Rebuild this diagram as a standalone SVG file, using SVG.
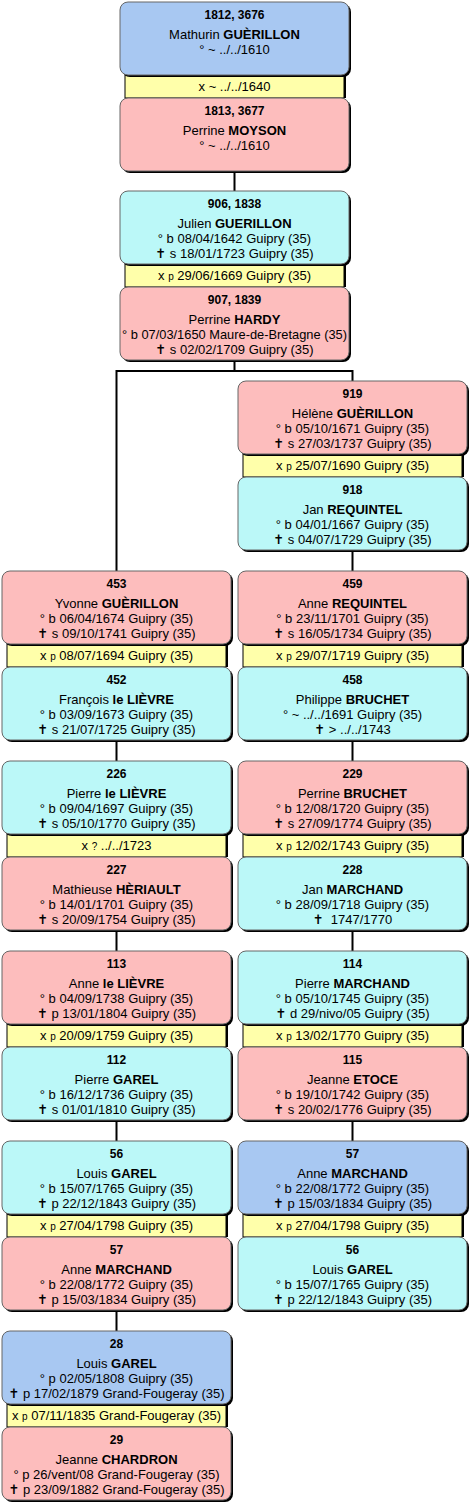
<svg xmlns="http://www.w3.org/2000/svg" width="474" height="1506" viewBox="0 0 474 1506">
<style>
text{font-family:"Liberation Sans",Arial,"DejaVu Sans",sans-serif;font-size:13px;fill:#000;text-anchor:middle}
.n{font-weight:bold;font-size:12px}
b,.b{font-weight:bold}
.s{font-size:10px}
.sh{fill:#000}
.bx{stroke:#666;stroke-width:1}
.blue{fill:#a8c8f2}
.pink{fill:#fdbdbd}
.cyan{fill:#bbf8f8}
.st{fill:#ffffaa;stroke:#000;stroke-width:1}
.cn{stroke:#000;stroke-width:2;fill:none;stroke-linecap:square}
</style>
<g id="connectors">
<path class="cn" d="M234.5 171V191M234.5 360V371M116.5 371H352.5M352.5 371V381M116.5 371V571M352.5 550V571M352.5 740V761M352.5 930V951M352.5 1120V1141M116.5 740V761M116.5 930V951M116.5 1120V1141M116.5 1310V1331"/>
</g>

<!-- Row 0 -->
<g id="m1812" transform="translate(120,2)"><rect class="sh" x="7" y="73" width="219" height="23"/><rect class="st" x="5" y="73" width="219" height="23"/><text x="114.5" y="89">x ~ ../../1640</text></g>
<g id="p1812" transform="translate(120,2)"><rect class="sh" x="2" y="2" width="229" height="73" rx="8"/><rect class="bx blue" width="229" height="73" rx="8"/><text class="n" x="114.5" y="17">1812, 3676</text><text x="114.5" y="37">Mathurin <tspan class="b">GUÈRILLON</tspan></text><text x="114.5" y="52">° ~ ../../1610</text></g>
<g id="p1813" transform="translate(120,98)"><rect class="sh" x="2" y="2" width="229" height="73" rx="8"/><rect class="bx pink" width="229" height="73" rx="8"/><text class="n" x="114.5" y="17">1813, 3677</text><text x="114.5" y="37">Perrine <tspan class="b">MOYSON</tspan></text><text x="114.5" y="52">° ~ ../../1610</text></g>

<!-- Row 1 -->
<g id="m906" transform="translate(120,191)"><rect class="sh" x="7" y="73" width="219" height="23"/><rect class="st" x="5" y="73" width="219" height="23"/><text x="114.5" y="89">x <tspan class="s">p</tspan> 29/06/1669 Guipry (35)</text></g>
<g id="p906" transform="translate(120,191)"><rect class="sh" x="2" y="2" width="229" height="73" rx="8"/><rect class="bx cyan" width="229" height="73" rx="8"/><text class="n" x="114.5" y="17">906, 1838</text><text x="114.5" y="37">Julien <tspan class="b">GUERILLON</tspan></text><text x="114.5" y="52">° b 08/04/1642 Guipry (35)</text><text x="114.5" y="67">✝ s 18/01/1723 Guipry (35)</text></g>
<g id="p907" transform="translate(120,287)"><rect class="sh" x="2" y="2" width="229" height="73" rx="8"/><rect class="bx pink" width="229" height="73" rx="8"/><text class="n" x="114.5" y="17">907, 1839</text><text x="114.5" y="37">Perrine <tspan class="b">HARDY</tspan></text><text x="114.5" y="52" textLength="225" lengthAdjust="spacingAndGlyphs">° b 07/03/1650 Maure-de-Bretagne (35)</text><text x="114.5" y="67">✝ s 02/02/1709 Guipry (35)</text></g>

<!-- Row 2 right -->
<g id="m919" transform="translate(238,381)"><rect class="sh" x="7" y="73" width="219" height="23"/><rect class="st" x="5" y="73" width="219" height="23"/><text x="114.5" y="89">x <tspan class="s">p</tspan> 25/07/1690 Guipry (35)</text></g>
<g id="p919" transform="translate(238,381)"><rect class="sh" x="2" y="2" width="229" height="73" rx="8"/><rect class="bx pink" width="229" height="73" rx="8"/><text class="n" x="114.5" y="17">919</text><text x="114.5" y="37">Hélène <tspan class="b">GUÈRILLON</tspan></text><text x="114.5" y="52">° b 05/10/1671 Guipry (35)</text><text x="114.5" y="67">✝ s 27/03/1737 Guipry (35)</text></g>
<g id="p918" transform="translate(238,477)"><rect class="sh" x="2" y="2" width="229" height="73" rx="8"/><rect class="bx cyan" width="229" height="73" rx="8"/><text class="n" x="114.5" y="17">918</text><text x="114.5" y="37">Jan <tspan class="b">REQUINTEL</tspan></text><text x="114.5" y="52">° b 04/01/1667 Guipry (35)</text><text x="114.5" y="67">✝ s 04/07/1729 Guipry (35)</text></g>

<!-- Row 3 left -->
<g id="m453" transform="translate(2,571)"><rect class="sh" x="7" y="73" width="219" height="23"/><rect class="st" x="5" y="73" width="219" height="23"/><text x="114.5" y="89">x <tspan class="s">p</tspan> 08/07/1694 Guipry (35)</text></g>
<g id="p453" transform="translate(2,571)"><rect class="sh" x="2" y="2" width="229" height="73" rx="8"/><rect class="bx pink" width="229" height="73" rx="8"/><text class="n" x="114.5" y="17">453</text><text x="114.5" y="37">Yvonne <tspan class="b">GUÈRILLON</tspan></text><text x="114.5" y="52">° b 06/04/1674 Guipry (35)</text><text x="114.5" y="67">✝ s 09/10/1741 Guipry (35)</text></g>
<g id="p452" transform="translate(2,667)"><rect class="sh" x="2" y="2" width="229" height="73" rx="8"/><rect class="bx cyan" width="229" height="73" rx="8"/><text class="n" x="114.5" y="17">452</text><text x="114.5" y="37">François <tspan class="b">le LIÈVRE</tspan></text><text x="114.5" y="52">° b 03/09/1673 Guipry (35)</text><text x="114.5" y="67">✝ s 21/07/1725 Guipry (35)</text></g>

<!-- Row 3 right -->
<g id="m459" transform="translate(238,571)"><rect class="sh" x="7" y="73" width="219" height="23"/><rect class="st" x="5" y="73" width="219" height="23"/><text x="114.5" y="89">x <tspan class="s">p</tspan> 29/07/1719 Guipry (35)</text></g>
<g id="p459" transform="translate(238,571)"><rect class="sh" x="2" y="2" width="229" height="73" rx="8"/><rect class="bx pink" width="229" height="73" rx="8"/><text class="n" x="114.5" y="17">459</text><text x="114.5" y="37">Anne <tspan class="b">REQUINTEL</tspan></text><text x="114.5" y="52">° b 23/11/1701 Guipry (35)</text><text x="114.5" y="67">✝ s 16/05/1734 Guipry (35)</text></g>
<g id="p458" transform="translate(238,667)"><rect class="sh" x="2" y="2" width="229" height="73" rx="8"/><rect class="bx cyan" width="229" height="73" rx="8"/><text class="n" x="114.5" y="17">458</text><text x="114.5" y="37">Philippe <tspan class="b">BRUCHET</tspan></text><text x="114.5" y="52">° ~ ../../1691 Guipry (35)</text><text x="114.5" y="67">✝ &gt; ../../1743</text></g>

<!-- Row 4 left -->
<g id="m226" transform="translate(2,761)"><rect class="sh" x="7" y="73" width="219" height="23"/><rect class="st" x="5" y="73" width="219" height="23"/><text x="114.5" y="89">x <tspan class="s">?</tspan> ../../1723</text></g>
<g id="p226" transform="translate(2,761)"><rect class="sh" x="2" y="2" width="229" height="73" rx="8"/><rect class="bx cyan" width="229" height="73" rx="8"/><text class="n" x="114.5" y="17">226</text><text x="114.5" y="37">Pierre <tspan class="b">le LIÈVRE</tspan></text><text x="114.5" y="52">° b 09/04/1697 Guipry (35)</text><text x="114.5" y="67">✝ s 05/10/1770 Guipry (35)</text></g>
<g id="p227" transform="translate(2,857)"><rect class="sh" x="2" y="2" width="229" height="73" rx="8"/><rect class="bx pink" width="229" height="73" rx="8"/><text class="n" x="114.5" y="17">227</text><text x="114.5" y="37">Mathieuse <tspan class="b">HÈRIAULT</tspan></text><text x="114.5" y="52">° b 14/01/1701 Guipry (35)</text><text x="114.5" y="67">✝ s 20/09/1754 Guipry (35)</text></g>

<!-- Row 4 right -->
<g id="m229" transform="translate(238,761)"><rect class="sh" x="7" y="73" width="219" height="23"/><rect class="st" x="5" y="73" width="219" height="23"/><text x="114.5" y="89">x <tspan class="s">p</tspan> 12/02/1743 Guipry (35)</text></g>
<g id="p229" transform="translate(238,761)"><rect class="sh" x="2" y="2" width="229" height="73" rx="8"/><rect class="bx pink" width="229" height="73" rx="8"/><text class="n" x="114.5" y="17">229</text><text x="114.5" y="37">Perrine <tspan class="b">BRUCHET</tspan></text><text x="114.5" y="52">° b 12/08/1720 Guipry (35)</text><text x="114.5" y="67">✝ s 27/09/1774 Guipry (35)</text></g>
<g id="p228" transform="translate(238,857)"><rect class="sh" x="2" y="2" width="229" height="73" rx="8"/><rect class="bx cyan" width="229" height="73" rx="8"/><text class="n" x="114.5" y="17">228</text><text x="114.5" y="37">Jan <tspan class="b">MARCHAND</tspan></text><text x="114.5" y="52">° b 28/09/1718 Guipry (35)</text><text x="114.5" y="67" xml:space="preserve">✝  1747/1770</text></g>

<!-- Row 5 left -->
<g id="m113" transform="translate(2,951)"><rect class="sh" x="7" y="73" width="219" height="23"/><rect class="st" x="5" y="73" width="219" height="23"/><text x="114.5" y="89">x <tspan class="s">p</tspan> 20/09/1759 Guipry (35)</text></g>
<g id="p113" transform="translate(2,951)"><rect class="sh" x="2" y="2" width="229" height="73" rx="8"/><rect class="bx pink" width="229" height="73" rx="8"/><text class="n" x="114.5" y="17">113</text><text x="114.5" y="37">Anne <tspan class="b">le LIÈVRE</tspan></text><text x="114.5" y="52">° b 04/09/1738 Guipry (35)</text><text x="114.5" y="67">✝ p 13/01/1804 Guipry (35)</text></g>
<g id="p112" transform="translate(2,1047)"><rect class="sh" x="2" y="2" width="229" height="73" rx="8"/><rect class="bx cyan" width="229" height="73" rx="8"/><text class="n" x="114.5" y="17">112</text><text x="114.5" y="37">Pierre <tspan class="b">GAREL</tspan></text><text x="114.5" y="52">° b 16/12/1736 Guipry (35)</text><text x="114.5" y="67">✝ s 01/01/1810 Guipry (35)</text></g>

<!-- Row 5 right -->
<g id="m114" transform="translate(238,951)"><rect class="sh" x="7" y="73" width="219" height="23"/><rect class="st" x="5" y="73" width="219" height="23"/><text x="114.5" y="89">x <tspan class="s">p</tspan> 13/02/1770 Guipry (35)</text></g>
<g id="p114" transform="translate(238,951)"><rect class="sh" x="2" y="2" width="229" height="73" rx="8"/><rect class="bx cyan" width="229" height="73" rx="8"/><text class="n" x="114.5" y="17">114</text><text x="114.5" y="37">Pierre <tspan class="b">MARCHAND</tspan></text><text x="114.5" y="52">° b 05/10/1745 Guipry (35)</text><text x="114.5" y="67">✝ d 29/nivo/05 Guipry (35)</text></g>
<g id="p115" transform="translate(238,1047)"><rect class="sh" x="2" y="2" width="229" height="73" rx="8"/><rect class="bx pink" width="229" height="73" rx="8"/><text class="n" x="114.5" y="17">115</text><text x="114.5" y="37">Jeanne <tspan class="b">ETOCE</tspan></text><text x="114.5" y="52">° b 19/10/1742 Guipry (35)</text><text x="114.5" y="67">✝ s 20/02/1776 Guipry (35)</text></g>

<!-- Row 6 left -->
<g id="m56a" transform="translate(2,1141)"><rect class="sh" x="7" y="73" width="219" height="23"/><rect class="st" x="5" y="73" width="219" height="23"/><text x="114.5" y="89">x <tspan class="s">p</tspan> 27/04/1798 Guipry (35)</text></g>
<g id="p56a" transform="translate(2,1141)"><rect class="sh" x="2" y="2" width="229" height="73" rx="8"/><rect class="bx cyan" width="229" height="73" rx="8"/><text class="n" x="114.5" y="17">56</text><text x="114.5" y="37">Louis <tspan class="b">GAREL</tspan></text><text x="114.5" y="52">° b 15/07/1765 Guipry (35)</text><text x="114.5" y="67">✝ p 22/12/1843 Guipry (35)</text></g>
<g id="p57a" transform="translate(2,1237)"><rect class="sh" x="2" y="2" width="229" height="73" rx="8"/><rect class="bx pink" width="229" height="73" rx="8"/><text class="n" x="114.5" y="17">57</text><text x="114.5" y="37">Anne <tspan class="b">MARCHAND</tspan></text><text x="114.5" y="52">° b 22/08/1772 Guipry (35)</text><text x="114.5" y="67">✝ p 15/03/1834 Guipry (35)</text></g>

<!-- Row 6 right -->
<g id="m57b" transform="translate(238,1141)"><rect class="sh" x="7" y="73" width="219" height="23"/><rect class="st" x="5" y="73" width="219" height="23"/><text x="114.5" y="89">x <tspan class="s">p</tspan> 27/04/1798 Guipry (35)</text></g>
<g id="p57b" transform="translate(238,1141)"><rect class="sh" x="2" y="2" width="229" height="73" rx="8"/><rect class="bx blue" width="229" height="73" rx="8"/><text class="n" x="114.5" y="17">57</text><text x="114.5" y="37">Anne <tspan class="b">MARCHAND</tspan></text><text x="114.5" y="52">° b 22/08/1772 Guipry (35)</text><text x="114.5" y="67">✝ p 15/03/1834 Guipry (35)</text></g>
<g id="p56b" transform="translate(238,1237)"><rect class="sh" x="2" y="2" width="229" height="73" rx="8"/><rect class="bx cyan" width="229" height="73" rx="8"/><text class="n" x="114.5" y="17">56</text><text x="114.5" y="37">Louis <tspan class="b">GAREL</tspan></text><text x="114.5" y="52">° b 15/07/1765 Guipry (35)</text><text x="114.5" y="67">✝ p 22/12/1843 Guipry (35)</text></g>

<!-- Row 7 left -->
<g id="m28" transform="translate(2,1331)"><rect class="sh" x="7" y="73" width="219" height="23"/><rect class="st" x="5" y="73" width="219" height="23"/><text x="114.5" y="89">x <tspan class="s">p</tspan> 07/11/1835 Grand-Fougeray (35)</text></g>
<g id="p28" transform="translate(2,1331)"><rect class="sh" x="2" y="2" width="229" height="73" rx="8"/><rect class="bx blue" width="229" height="73" rx="8"/><text class="n" x="114.5" y="17">28</text><text x="114.5" y="37">Louis <tspan class="b">GAREL</tspan></text><text x="114.5" y="52">° p 02/05/1808 Guipry (35)</text><text x="114.5" y="67">✝ p 17/02/1879 Grand-Fougeray (35)</text></g>
<g id="p29" transform="translate(2,1427)"><rect class="sh" x="2" y="2" width="229" height="73" rx="8"/><rect class="bx pink" width="229" height="73" rx="8"/><text class="n" x="114.5" y="17">29</text><text x="114.5" y="37">Jeanne <tspan class="b">CHARDRON</tspan></text><text x="114.5" y="52">° p 26/vent/08 Grand-Fougeray (35)</text><text x="114.5" y="67">✝ p 23/09/1882 Grand-Fougeray (35)</text></g>
</svg>
